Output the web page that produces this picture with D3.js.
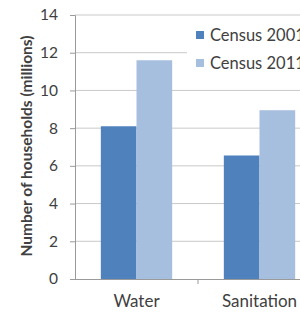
<!DOCTYPE html>
<html>
<head>
<meta charset="utf-8">
<script src="https://cdn.jsdelivr.net/npm/d3@7"></script>
<style>
  body { margin: 0; background: #fff; }
  text { font-family: Lato, "Open Sans", sans-serif; fill: #404040; }
</style>
</head>
<body>
<svg id="chart" width="300" height="313"></svg>
<script>
const categories = ["Water", "Sanitation"];
const seriesNames = ["Census 2001", "Census 2011"];
const census2001 = [8.1, 6.55];
const census2011 = [11.6, 8.95];
const yTicks = [0, 2, 4, 6, 8, 10, 12, 14];
const colors = ["#4f81bd", "#a7bfde"];

let svg = d3.select("#chart");
let plotLeft = 75, plotRight = 321, plotTop = 15, plotBottom = 279;

let x = d3.scaleBand().domain(categories).range([plotLeft, plotRight]).paddingInner(0.42).paddingOuter(0.21);
let sub = d3.scaleBand().domain(seriesNames).range([0, x.bandwidth()]);
let y = d3.scaleLinear().domain([0, 14]).range([plotBottom, plotTop]);

// gridlines
svg.append("g").selectAll("line").data(yTicks.filter(d => d > 0)).join("line")
  .attr("x1", plotLeft).attr("x2", 300)
  .attr("y1", d => y(d)).attr("y2", d => y(d))
  .attr("stroke", "#c9c9c9").attr("stroke-width", 1);

// y axis
let yAxis = svg.append("g").attr("transform", `translate(${plotLeft},0)`)
  .call(d3.axisLeft(y).tickValues(yTicks).tickSize(5).tickPadding(12));
yAxis.select(".domain").attr("stroke", "#9a9a9a");
yAxis.selectAll(".tick line").attr("stroke", "#9a9a9a");
yAxis.selectAll("text").style("font-size", "15.5px").attr("fill", "#404040");

// bars
let rows = categories.map((c, i) => [
  {cat: c, s: seriesNames[0], v: census2001[i]},
  {cat: c, s: seriesNames[1], v: census2011[i]}
]).flat();
svg.append("g").selectAll("rect").data(rows).join("rect")
  .attr("x", d => x(d.cat) + sub(d.s))
  .attr("width", sub.bandwidth())
  .attr("y", d => y(d.v))
  .attr("height", d => y(0) - y(d.v))
  .attr("fill", d => colors[seriesNames.indexOf(d.s)]);

// x axis
svg.append("line").attr("x1", plotLeft).attr("x2", 300).attr("y1", plotBottom + 0.5).attr("y2", plotBottom + 0.5)
  .attr("stroke", "#9a9a9a");
let step = x.step();
svg.append("line").attr("x1", plotLeft + step).attr("x2", plotLeft + step)
  .attr("y1", plotBottom).attr("y2", plotBottom + 5).attr("stroke", "#9a9a9a");
svg.append("g").selectAll("text").data(categories).join("text")
  .attr("x", d => x(d) + x.bandwidth() / 2)
  .attr("y", 307)
  .attr("text-anchor", "middle")
  .style("font-size", "17px")
  .text(d => d);

// y label
svg.append("text")
  .attr("transform", `translate(32,${(22 + 270) / 2}) rotate(-90)`)
  .attr("text-anchor", "middle")
  .style("font-size", "15.5px").style("font-weight", "bold")
  .text("Number of households (millions)");

// legend
svg.append("rect").attr("x", 187).attr("y", 20).attr("width", 113).attr("height", 60).attr("fill", "#fff");
let lg = svg.append("g").selectAll("g").data(seriesNames).join("g")
  .attr("transform", (d, i) => `translate(196,${35 + i * 28})`);
lg.append("rect").attr("x", 0).attr("y", -4).attr("width", 8).attr("height", 8)
  .attr("fill", (d, i) => colors[i]);
lg.append("text").attr("x", 14).attr("y", 6).style("font-size", "16.5px").text(d => d);
</script>
</body>
</html>
